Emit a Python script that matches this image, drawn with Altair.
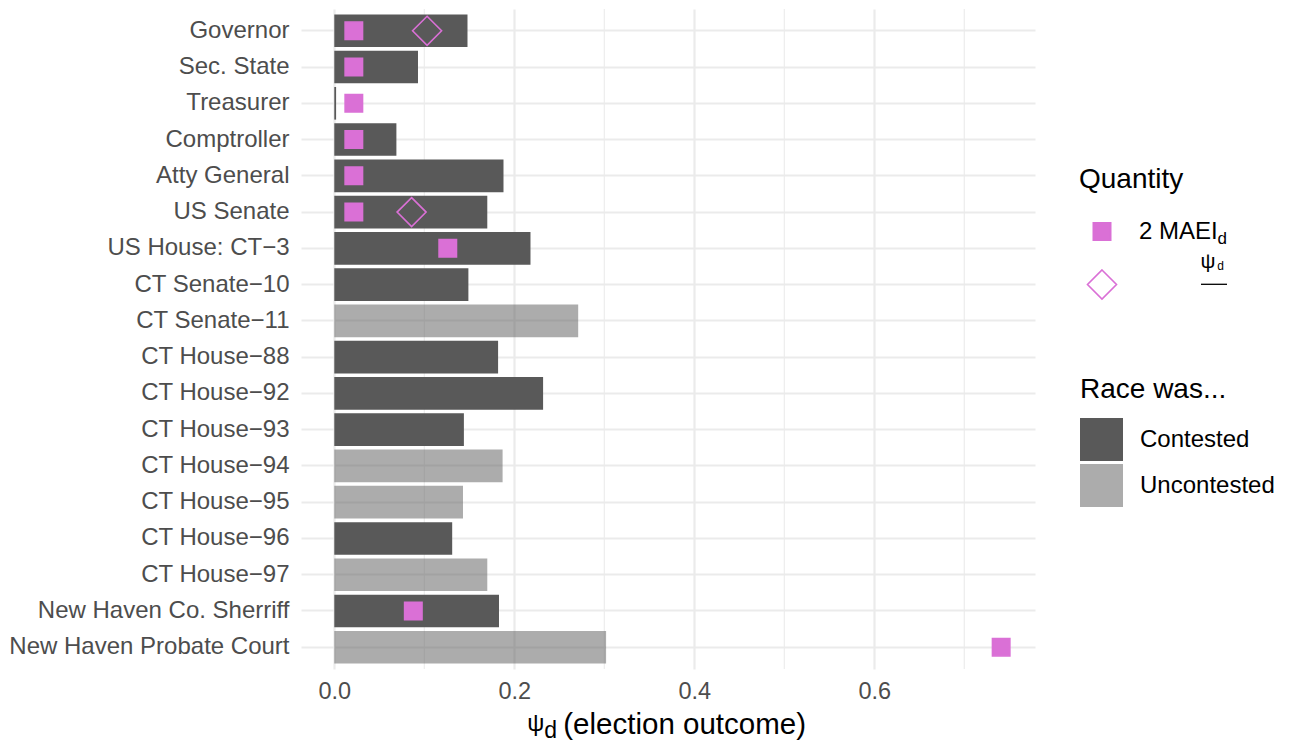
import altair as alt
import pandas as pd

MINUS = "\u2212"
races = ["Governor", "Sec. State", "Treasurer", "Comptroller", "Atty General",
         "US Senate", "US House: CT" + MINUS + "3", "CT Senate" + MINUS + "10",
         "CT Senate" + MINUS + "11", "CT House" + MINUS + "88", "CT House" + MINUS + "92",
         "CT House" + MINUS + "93", "CT House" + MINUS + "94", "CT House" + MINUS + "95",
         "CT House" + MINUS + "96", "CT House" + MINUS + "97",
         "New Haven Co. Sherriff", "New Haven Probate Court"]
psi_d = [0.148, 0.093, 0.002, 0.069, 0.188, 0.170, 0.218, 0.149, 0.271, 0.182,
         0.232, 0.144, 0.187, 0.143, 0.131, 0.170, 0.183, 0.302]
status = ["Contested", "Contested", "Contested", "Contested", "Contested",
          "Contested", "Contested", "Contested", "Uncontested", "Contested",
          "Contested", "Contested", "Uncontested", "Uncontested", "Contested",
          "Uncontested", "Contested", "Uncontested"]

mae_races = ["Governor", "Sec. State", "Treasurer", "Comptroller", "Atty General",
             "US Senate", "US House: CT" + MINUS + "3", "New Haven Co. Sherriff",
             "New Haven Probate Court"]
mae_values = [0.0217, 0.0217, 0.0217, 0.0217, 0.0217, 0.0217, 0.1261, 0.0878, 0.741]
psi_races = ["Governor", "US Senate"]
psi_values = [0.1031, 0.0859]

major_ticks = [0.0, 0.2, 0.4, 0.6]
minor_ticks = [0.1, 0.3, 0.5, 0.7]

Q1 = "2 MAEI"
Q2 = "\u03c8"

bars_df = pd.DataFrame({"race": races, "psi": psi_d, "status": status})
pts_df = pd.DataFrame({
    "race": mae_races + psi_races,
    "value": mae_values + psi_values,
    "quantity": [Q1] * len(mae_races) + [Q2] * len(psi_races),
})
minor_df = pd.DataFrame({"m": minor_ticks})

W, H = 734, 660
FONT = "Liberation Sans"
GRID = "#EBEBEB"
ORCHID = "#DA70D6"

xscale = alt.Scale(domain=[-0.037, 0.7786], nice=False, zero=False)
yenc = alt.Y("race:N", sort=races,
             scale=alt.Scale(paddingInner=0.1, paddingOuter=0.15),
             axis=alt.Axis(title=None, ticks=False, domain=False, labelFontSize=24,
                           labelColor="#4D4D4D", labelPadding=12, grid=True,
                           gridColor=GRID, gridWidth=2.2, bandPosition=0.5,
                           labelFont=FONT, labelLimit=500))

minor = alt.Chart(minor_df).mark_rule(color=GRID, strokeWidth=1.1).encode(
    x=alt.X("m:Q", scale=xscale)
)

race_legend = alt.Legend(title="Race was...", orient="none",
                         legendX=779, legendY=367,
                         symbolType="square", symbolSize=1849,
                         symbolStrokeWidth=0, labelOffset=17,
                         rowPadding=3, titlePadding=14)

bars = alt.Chart(bars_df).mark_bar().encode(
    x=alt.X("psi:Q", scale=xscale,
            axis=alt.Axis(values=major_ticks, format=".1f", title=None, ticks=False,
                          domain=False, labelFontSize=23.5, labelColor="#4D4D4D",
                          labelPadding=10, grid=True, gridColor=GRID, gridWidth=2.2,
                          labelFont=FONT)),
    x2=alt.datum(0),
    y=yenc,
    color=alt.Color("status:N",
                    scale=alt.Scale(domain=["Contested", "Uncontested"],
                                    range=["#595959", "#595959"]),
                    legend=race_legend),
    opacity=alt.Opacity("status:N",
                        scale=alt.Scale(domain=["Contested", "Uncontested"],
                                        range=[1.0, 0.5]),
                        legend=race_legend),
)

SQ = "M-0.6,-0.6L0.6,-0.6L0.6,0.6L-0.6,0.6Z"
DM = "M0,-1L1,0L0,1L-1,0Z"
qdom = [Q1, Q2]
qlegend = alt.Legend(title="Quantity", orient="none", legendX=778, legendY=157,
                     symbolSize=841, symbolStrokeWidth=1.6, labelOffset=21.5,
                     rowPadding=22, titlePadding=22, symbolOffset=7.5,
                     labelExpr="datum.value == '" + Q2 + "' ? '' : datum.label")
points = alt.Chart(pts_df).mark_point(size=841, strokeWidth=1.6, opacity=1).encode(
    x=alt.X("value:Q", scale=xscale),
    y=alt.Y("race:N", sort=races),
    shape=alt.Shape("quantity:N", scale=alt.Scale(domain=qdom, range=[SQ, DM]),
                    legend=qlegend),
    fill=alt.Fill("quantity:N", scale=alt.Scale(domain=qdom, range=[ORCHID, "transparent"]),
                  legend=qlegend),
    stroke=alt.Stroke("quantity:N", scale=alt.Scale(domain=qdom, range=[ORCHID, ORCHID]),
                      legend=qlegend),
)

one = pd.DataFrame({"a": [0]})


def txt(s, x, y, size, color="black"):
    return alt.Chart(one).mark_text(text=s, align="left", baseline="alphabetic",
                                    fontSize=size, font=FONT, color=color).encode(
        x=alt.value(x), y=alt.value(y))


overlays = [
    # x-axis title
    txt("\u03c8", 226.3, 722, 24),
    txt("d", 243.3, 728.7, 23),
    txt("(election outcome)", 262.3, 724.7, 29.5),
    # legend subscripts / fraction label
    txt("d", 916.5, 235, 17),
    txt("\u03c8", 899.5, 259, 21),
    txt("d", 916.3, 261.3, 12),
]
underline = alt.Chart(one).mark_rule(color="black", strokeWidth=1.3).encode(
    x=alt.value(900), x2=alt.value(926), y=alt.value(275.3))

chart = alt.layer(minor, bars, points, *overlays, underline).resolve_scale(
    color="independent", shape="independent", fill="independent", stroke="independent",
    opacity="independent"
).properties(width=W, height=H, padding=0).configure(
    font=FONT
).configure_view(
    strokeWidth=0, stroke="transparent"
).configure_legend(titleFontSize=28, titleFontWeight="normal", titleColor="black",
                   labelFontSize=24, labelColor="black", titleFont=FONT, labelFont=FONT,
                   padding=0)

chart.save("out.html", embed_options={"renderer": "svg", "actions": False})
